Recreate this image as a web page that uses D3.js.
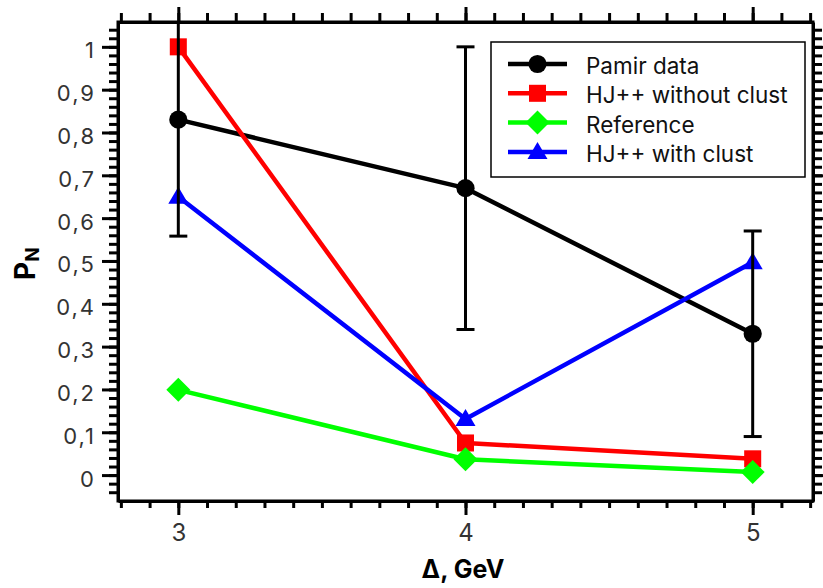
<!DOCTYPE html>
<html><head><meta charset="utf-8">
<script src="https://cdn.jsdelivr.net/npm/d3@7"></script>
<style>body{margin:0;background:#fff}svg{display:block}</style>
</head><body>
<svg id="c" width="823" height="588"></svg>
<script>
const xValues = [3, 4, 5];
const pamir = [0.83, 0.67, 0.33];
const pamirLow = [0.558, 0.34, 0.09];
const pamirHigh = [1.1, 1.0, 0.57];
const hjWithout = [1.0, 0.075, 0.038];
const reference = [0.199, 0.037, 0.007];
const hjWith = [0.65, 0.131, 0.497];
const xTicks = [3, 4, 5];
const yTicks = [0, 0.1, 0.2, 0.3, 0.4, 0.5, 0.6, 0.7, 0.8, 0.9, 1];
const legendLabels = ["Pamir data", "HJ++ without clust", "Reference", "HJ++ with clust"];

const svg = d3.select("#c");
const L = 118, R = 813, T = 22, B = 501;
const x = d3.scaleLinear().domain([2.79, 5.21]).range([L, R]);
const y = d3.scaleLinear().domain([-0.0605, 1.058]).range([B, T]);
const fmt = d => String(d).replace(".", ",");
const font = "Inter, 'Liberation Sans', sans-serif";

svg.append("defs").append("clipPath").attr("id", "clip")
  .append("rect").attr("x", L).attr("y", T).attr("width", R - L).attr("height", B - T);

const minorX = d3.range(28, 53).map(v => v / 10);
const minorY = d3.range(-2, 53).map(v => v / 50);

function styleAxis(g) {
  g.selectAll("path.domain").attr("stroke", "#000").attr("stroke-width", 3);
  g.selectAll(".tick line").attr("stroke", "#000").attr("stroke-width", 3);
  g.selectAll("text").attr("font-family", font).attr("fill", "#333");
}

// bottom
const gB = svg.append("g").attr("transform", `translate(0,${B})`);
gB.call(d3.axisBottom(x).tickValues(minorX).tickSize(7).tickFormat("").tickSizeOuter(0));
gB.call(styleAxis);
const gB2 = svg.append("g").attr("transform", `translate(0,${B})`);
gB2.call(d3.axisBottom(x).tickValues(xTicks).tickSize(14).tickPadding(9).tickFormat(d3.format("d")).tickSizeOuter(0));
gB2.call(styleAxis);
gB2.selectAll("text").attr("font-size", 24);
gB2.select("path.domain").remove();

// top
const gT = svg.append("g").attr("transform", `translate(0,${T})`);
gT.call(d3.axisTop(x).tickValues(minorX).tickSize(9).tickFormat("").tickSizeOuter(0));
gT.call(styleAxis);
const gT2 = svg.append("g").attr("transform", `translate(0,${T})`);
gT2.call(d3.axisTop(x).tickValues(xTicks).tickSize(15).tickFormat("").tickSizeOuter(0));
gT2.call(styleAxis);
gT2.select("path.domain").remove();

// left
const gL = svg.append("g").attr("transform", `translate(${L},0)`);
gL.call(d3.axisLeft(y).tickValues(minorY).tickSize(9).tickFormat("").tickSizeOuter(0));
gL.call(styleAxis);
const gL2 = svg.append("g").attr("transform", `translate(${L},0)`);
gL2.call(d3.axisLeft(y).tickValues(yTicks).tickSize(16).tickPadding(6).tickFormat(fmt).tickSizeOuter(0));
gL2.call(styleAxis);
gL2.selectAll("text").attr("font-size", 22).attr("letter-spacing", 2).attr("dy", "0.5em");
gL2.select("path.domain").remove();

// right
const gR = svg.append("g").attr("transform", `translate(${R},0)`);
gR.call(d3.axisRight(y).tickValues(minorY).tickSize(9).tickFormat("").tickSizeOuter(0));
gR.call(styleAxis);
const gR2 = svg.append("g").attr("transform", `translate(${R},0)`);
gR2.call(d3.axisRight(y).tickValues(yTicks).tickSize(16).tickFormat("").tickSizeOuter(0));
gR2.call(styleAxis);
gR2.select("path.domain").remove();

// frame
svg.append("path").attr("d", `M${L},${T}H${R}V${B}H${L}Z`).attr("fill", "none")
  .attr("stroke", "#000").attr("stroke-width", 3);

// series
const series = [
  {name: legendLabels[0], vals: pamir, color: "#000", sym: d3.symbolCircle, size: 260},
  {name: legendLabels[1], vals: hjWithout, color: "#ff0000", sym: d3.symbolSquare, size: 290},
  {name: legendLabels[2], vals: reference, color: "#00ff00", sym: "diamond", size: 12},
  {name: legendLabels[3], vals: hjWith, color: "#0000ff", sym: "tri", size: 10}
];
function markerPath(s) {
  if (s.sym === "diamond") { const h = s.size; return `M0,${-h}L${h},0L0,${h}L${-h},0Z`; }
  if (s.sym === "tri") { const h = s.size; return `M0,${-h}L${h},${h * 0.7}L${-h},${h * 0.7}Z`; }
  return d3.symbol().type(s.sym).size(s.size)();
}
const plot = svg.append("g").attr("clip-path", "url(#clip)");
const line = d3.line().x((d, i) => x(xValues[i])).y(d => y(d));
series.forEach(s => {
  plot.append("path").datum(s.vals).attr("d", line).attr("fill", "none")
    .attr("stroke", s.color).attr("stroke-width", 4.5).attr("stroke-linejoin", "round");
  plot.selectAll(null).data(s.vals).enter().append("path")
    .attr("d", markerPath(s))
    .attr("transform", (d, i) => `translate(${x(xValues[i])},${y(d)})`)
    .attr("fill", s.color);
});
// error bars
const eb = plot.append("g").attr("stroke", "#000").attr("stroke-width", 3);
xValues.forEach((xv, i) => {
  const cx = x(xv);
  eb.append("line").attr("x1", cx).attr("x2", cx).attr("y1", y(pamirLow[i])).attr("y2", y(pamirHigh[i]));
  [pamirLow[i], pamirHigh[i]].forEach(v => {
    eb.append("line").attr("x1", cx - 9).attr("x2", cx + 9).attr("y1", y(v)).attr("y2", y(v));
  });
});

// legend
const lg = svg.append("g");
lg.append("rect").attr("x", 491).attr("y", 42).attr("width", 314).attr("height", 135)
  .attr("fill", "#fff").attr("stroke", "#000").attr("stroke-width", 1.5);
series.forEach((s, i) => {
  const ly = 64 + i * 29.3;
  lg.append("line").attr("x1", 508).attr("x2", 567).attr("y1", ly).attr("y2", ly)
    .attr("stroke", s.color).attr("stroke-width", 4.5);
  lg.append("path").attr("d", markerPath(s)).attr("transform", `translate(537.5,${ly})`).attr("fill", s.color);
  lg.append("text").attr("x", 586).attr("y", ly + 10).text(s.name)
    .attr("font-family", font).attr("font-size", 22.5).attr("fill", "#111");
});

// axis titles
svg.append("text").attr("x", 463).attr("y", 578).attr("text-anchor", "middle")
  .attr("font-family", font).attr("font-weight", "bold").attr("font-size", 25).text("Δ, GeV");
const yt = svg.append("text").attr("transform", "translate(35,280) rotate(-90)")
  .attr("font-family", font).attr("font-weight", "bold").attr("font-size", 28);
yt.append("tspan").text("P");
yt.append("tspan").attr("font-size", 19).attr("dy", 4).text("N");
</script>
</body></html>
